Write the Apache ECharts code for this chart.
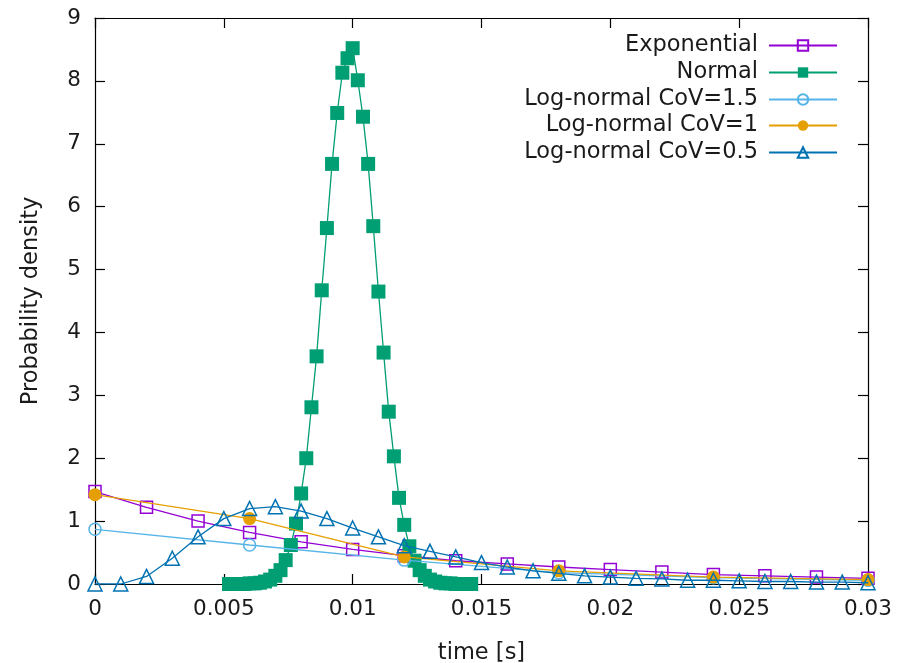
<!DOCTYPE html>
<html>
<head>
<meta charset="utf-8">
<script src="https://cdn.jsdelivr.net/npm/echarts@6/dist/echarts.min.js"></script>
<style>
html,body{margin:0;padding:0;background:#fff;}
#chart{width:909px;height:663px;}
</style>
</head>
<body>
<div id="chart"></div>
<script>
// ---- data ----
const seriesNames = ['Exponential', 'Normal', 'Log-normal CoV=1.5', 'Log-normal CoV=1', 'Log-normal CoV=0.5'];
const xTicks = [0, 0.005, 0.01, 0.015, 0.02, 0.025, 0.03];
const yTicks = [0, 1, 2, 3, 4, 5, 6, 7, 8, 9];

const expX = [0, 0.002, 0.004, 0.006, 0.008, 0.01, 0.012, 0.014, 0.016, 0.018, 0.02, 0.022, 0.024, 0.026, 0.028, 0.03];
const expY = [1.47, 1.22, 1.0, 0.82, 0.67, 0.55, 0.45, 0.37, 0.32, 0.27, 0.23, 0.19, 0.15, 0.13, 0.11, 0.09];

const normX = [0.0052, 0.0054, 0.0056, 0.0058, 0.006, 0.0062, 0.0064, 0.0066, 0.0068, 0.007,
  0.0072, 0.0074, 0.0076, 0.0078, 0.008, 0.0082, 0.0084, 0.0086, 0.0088, 0.009,
  0.0092, 0.0094, 0.0096, 0.0098, 0.01, 0.0102, 0.0104, 0.0106, 0.0108, 0.011,
  0.0112, 0.0114, 0.0116, 0.0118, 0.012, 0.0122, 0.0124, 0.0126, 0.0128, 0.013,
  0.0132, 0.0134, 0.0136, 0.0138, 0.014, 0.0142, 0.0144, 0.0146];
const normY = [0, 0, 0, 0, 0.01, 0.01, 0.02, 0.04, 0.07, 0.13,
  0.22, 0.38, 0.62, 0.96, 1.44, 2.0, 2.81, 3.62, 4.67, 5.66,
  6.68, 7.49, 8.13, 8.36, 8.52, 8.01, 7.43, 6.68, 5.69, 4.65,
  3.68, 2.74, 2.03, 1.37, 0.94, 0.6, 0.37, 0.22, 0.13, 0.07,
  0.04, 0.02, 0.01, 0.01, 0, 0, 0, 0];

const lnX = [0, 0.006, 0.012, 0.018, 0.024, 0.03];
const ln15Y = [0.87, 0.62, 0.38, 0.18, 0.1, 0.06];
const ln1Y = [1.42, 1.04, 0.43, 0.21, 0.11, 0.07];

const ln05X = [0, 0.001, 0.002, 0.003, 0.004, 0.005, 0.006, 0.007, 0.008, 0.009, 0.01,
  0.011, 0.012, 0.013, 0.014, 0.015, 0.016, 0.017, 0.018, 0.019, 0.02,
  0.021, 0.022, 0.023, 0.024, 0.025, 0.026, 0.027, 0.028, 0.029, 0.03];
const ln05Y = [0.0, 0.0, 0.12, 0.41, 0.75, 1.04, 1.2, 1.23, 1.16, 1.04, 0.89,
  0.75, 0.61, 0.52, 0.43, 0.34, 0.27, 0.21, 0.17, 0.13, 0.11,
  0.09, 0.08, 0.06, 0.06, 0.05, 0.04, 0.04, 0.03, 0.03, 0.02];

// ---- build chart ----
const colors = ['#9400d3', '#009e73', '#56b4e9', '#e69f00', '#0072b2'];
const FONT = 'DejaVu Sans';
const TXT = '#1a1a1a';
const FS = 22.5;
const TFS = 21.5;
const zip = (xs, ys) => xs.map((x, i) => [x, ys[i]]);

function mkSeries(i, xs, ys, symbol, size, filled) {
  return {
    name: seriesNames[i],
    type: 'line',
    data: zip(xs, ys),
    symbol: symbol,
    symbolSize: size,
    showAllSymbol: true,
    animation: false,
    lineStyle: { color: colors[i], width: 1.3 },
    itemStyle: filled
      ? { color: colors[i], borderColor: colors[i], borderWidth: 0 }
      : { color: 'rgba(255,255,255,0)', borderColor: colors[i], borderWidth: 1.5 },
    emphasis: { disabled: true },
    z: 2 + i
  };
}

const legendTops = [34, 61, 88, 114, 141];
const legends = seriesNames.map((n, i) => ({
  data: [n],
  right: 71,
  top: legendTops[i],
  orient: 'vertical',
  align: 'right',
  itemWidth: 68,
  itemHeight: 13,
  itemGap: 0,
  padding: 0,
  selectedMode: false,
  textStyle: { fontFamily: FONT, fontSize: FS, color: TXT, padding: [0, 6, 0, 0] }
}));

const axisCommonX = {
  type: 'value', min: 0, max: 0.03, interval: 0.005,
  splitLine: { show: false },
  axisLine: { show: true, onZero: false, lineStyle: { color: '#000', width: 1.2 } },
  axisTick: { show: true, inside: true, length: 10, lineStyle: { color: '#000', width: 1.2 } }
};
const axisCommonY = {
  type: 'value', min: 0, max: 9, interval: 1,
  splitLine: { show: false },
  axisLine: { show: true, onZero: false, lineStyle: { color: '#000', width: 1.2 } },
  axisTick: { show: true, inside: true, length: 10, lineStyle: { color: '#000', width: 1.2 } }
};

const chart = echarts.init(document.getElementById('chart'), null, { renderer: 'canvas' });
chart.setOption({
  backgroundColor: '#fff',
  animation: false,
  color: colors,
  grid: { left: 95, right: 41, top: 18, bottom: 79, containLabel: false, outerBoundsMode: 'none' },
  legend: legends,
  xAxis: [
    Object.assign({}, axisCommonX, {
      position: 'bottom',
      name: 'time [s]', nameLocation: 'middle', nameGap: 58,
      nameTextStyle: { fontFamily: FONT, fontSize: FS, color: TXT },
      axisLabel: { fontFamily: FONT, fontSize: TFS, color: TXT, margin: 14,
        formatter: v => { const t = xTicks.find(k => Math.abs(k - v) < 1e-9); return t === undefined ? '' : String(t); } }
    }),
    Object.assign({}, axisCommonX, { position: 'top', axisLabel: { show: false } })
  ],
  yAxis: [
    Object.assign({}, axisCommonY, {
      position: 'left',
      name: 'Probability density', nameLocation: 'middle', nameGap: 52, nameRotate: 90,
      nameTextStyle: { fontFamily: FONT, fontSize: FS, color: TXT },
      axisLabel: { fontFamily: FONT, fontSize: TFS, color: TXT, margin: 14,
        formatter: v => { const t = yTicks.find(k => Math.abs(k - v) < 1e-9); return t === undefined ? '' : String(t); } }
    }),
    Object.assign({}, axisCommonY, { position: 'right', axisLabel: { show: false } })
  ],
  series: [
    mkSeries(0, expX, expY, 'rect', 12, false),
    mkSeries(1, normX, normY, 'rect', 14, true),
    mkSeries(2, lnX, ln15Y, 'circle', 12, false),
    mkSeries(3, lnX, ln1Y, 'circle', 13, true),
    mkSeries(4, ln05X, ln05Y, 'triangle', 14, false)
  ]
});
</script>
</body>
</html>
